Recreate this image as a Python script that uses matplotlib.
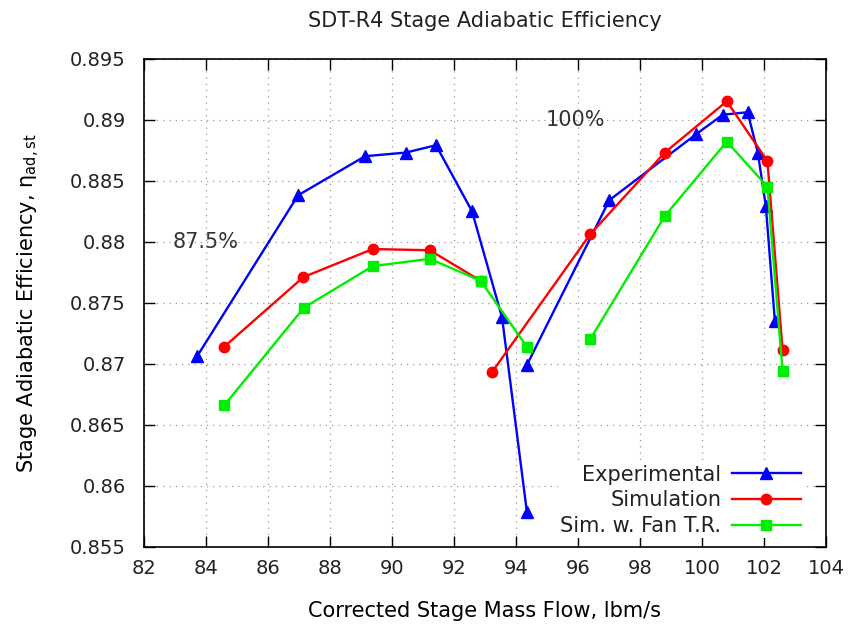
import matplotlib
matplotlib.use('Agg')
import matplotlib.pyplot as plt
from matplotlib.ticker import FormatStrFormatter, MultipleLocator

# experimental, two speed lines (87.5% and 100%)
expLowFlow = [83.71, 86.97, 89.13, 90.45, 91.42, 92.58, 93.55, 94.35]
expLowEff = [0.8706, 0.8838, 0.8870, 0.8873, 0.8879, 0.8825, 0.8738, 0.8579]
expHighFlow = [94.35, 97.01, 99.81, 100.67, 101.47, 101.80, 102.06, 102.35]
expHighEff = [0.8699, 0.8834, 0.8888, 0.8904, 0.8906, 0.8873, 0.8829, 0.8735]

# simulation
simLowFlow = [84.59, 87.14, 89.38, 91.22, 92.86]
simLowEff = [0.8714, 0.8771, 0.8794, 0.8793, 0.8768]
simHighFlow = [93.22, 96.39, 98.80, 100.80, 102.11, 102.60]
simHighEff = [0.8693, 0.8806, 0.8873, 0.8915, 0.8866, 0.8711]

# simulation with fan total ratio
fanLowFlow = [84.59, 87.16, 89.38, 91.22, 92.86, 94.35]
fanLowEff = [0.8666, 0.8746, 0.8780, 0.8786, 0.8768, 0.8714]
fanHighFlow = [96.39, 98.80, 100.80, 102.11, 102.60]
fanHighEff = [0.8720, 0.8821, 0.8882, 0.8845, 0.8694]

plt.rcParams['font.family'] = 'DejaVu Sans'
plt.rcParams['font.size'] = 15
plt.rcParams['text.color'] = '#222222'

fig = plt.figure(figsize=(8.55, 6.26), dpi=100)
ax = fig.add_axes([0.1684, 0.1262, 0.7977, 0.7803])

blue = '#0000ff'
red = '#ff0000'
green = '#00ee00'
lw = 1.7

ax.plot(expLowFlow, expLowEff, color=blue, lw=lw, marker='^', ms=8, label='Experimental')
ax.plot(expHighFlow, expHighEff, color=blue, lw=lw, marker='^', ms=8)
ax.plot(simLowFlow, simLowEff, color=red, lw=lw, marker='o', ms=7.5, label='Simulation')
ax.plot(simHighFlow, simHighEff, color=red, lw=lw, marker='o', ms=7.5)
ax.plot(fanLowFlow, fanLowEff, color=green, lw=lw, marker='s', ms=7, label='Sim. w. Fan T.R.')
ax.plot(fanHighFlow, fanHighEff, color=green, lw=lw, marker='s', ms=7)

ax.text(82.94, 0.880, '87.5%', fontsize=15, color='#333333', va='center', ha='left')
ax.text(94.97, 0.890, '100%', fontsize=15, color='#333333', va='center', ha='left')

ax.set_xlim(82, 104)
ax.set_ylim(0.855, 0.895)
ax.xaxis.set_major_locator(MultipleLocator(2))
ax.yaxis.set_major_locator(MultipleLocator(0.005))
ax.yaxis.set_major_formatter(FormatStrFormatter('%g'))
ax.tick_params(direction='in', length=8, width=1, top=True, right=True,
               labelsize=14, labelcolor='#222222')
ax.tick_params(axis='y', pad=13)
ax.tick_params(axis='x', pad=9)
ax.grid(True, color='#999999', linestyle=(0, (1, 4)), linewidth=0.9)
for s in ax.spines.values():
    s.set_linewidth(1.2)

ax.set_title('SDT-R4 Stage Adiabatic Efficiency', fontsize=15, pad=23)
ax.set_xlabel('Corrected Stage Mass Flow, lbm/s', fontsize=15, labelpad=16)
ax.set_ylabel(r'Stage Adiabatic Efficiency, $\mathregular{\eta_{ad,st}}$', fontsize=15, labelpad=20)

leg = ax.legend(loc='lower right', bbox_to_anchor=(0.981, -0.003), markerfirst=False,
                handlelength=3.3, handletextpad=0.5, borderpad=0.1, labelspacing=0.27,
                fontsize=15, frameon=True, fancybox=False, framealpha=1,
                edgecolor='none', facecolor='white')

fig.savefig('out.png', dpi=100)
